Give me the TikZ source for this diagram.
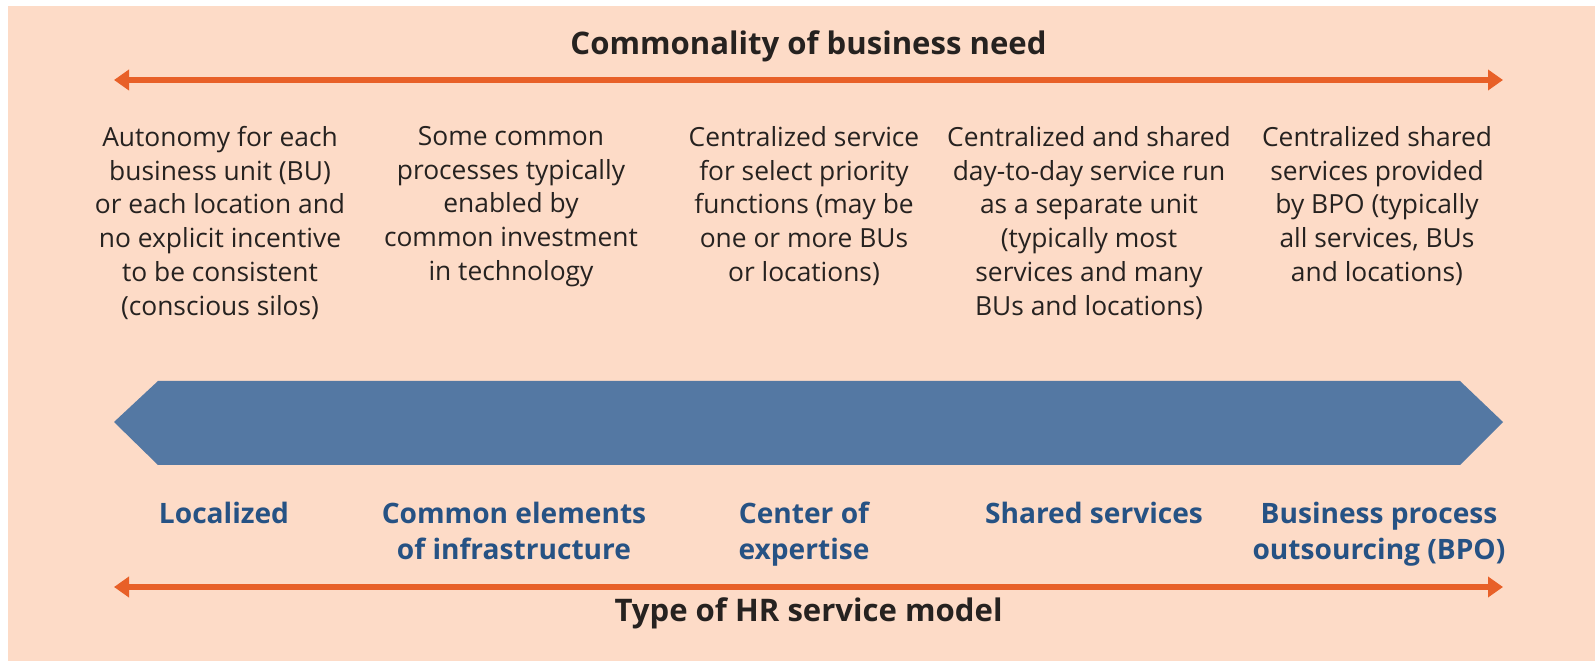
\documentclass[tikz,border=0pt]{standalone}
\usepackage{fontspec}
\setmainfont{Open Sans}
\usetikzlibrary{arrows.meta, positioning}

\definecolor{peach}{RGB}{253,219,199}
\definecolor{arroworange}{RGB}{232,96,40}
\definecolor{bandblue}{RGB}{84,120,163}
\definecolor{modelblue}{RGB}{38,82,132}
\definecolor{bodytext}{RGB}{38,34,32}

\begin{document}
\begin{tikzpicture}[
    every node/.style={
        align=center,
        inner sep=0pt
    },
    desc/.style={anchor=north, text=bodytext, font=\fontsize{15}{19.2}\selectfont},
    model/.style={anchor=north, text=modelblue, font=\bfseries\fontsize{16}{20.5}\selectfont},
    axislabel/.style={text=bodytext, font=\bfseries\fontsize{17.7}{21}\selectfont},
    scalearrow/.style={{Triangle[length=0.3cm, width=0.4cm]}-{Triangle[length=0.3cm, width=0.4cm]},
        line width=3.4pt, draw=arroworange}
]

% === Canvas ===
\useasboundingbox (0,0) rectangle (31.9,13.22);
\fill[peach] (0.16,0) rectangle (31.9,13.1);

% === Top scale: commonality ===
\node[axislabel] (needlabel) at (16.17,12.30) {Commonality of business need};
\coordinate (needL) at (2.28,11.62);
\coordinate (needR) at (30.06,11.62);

% === Descriptions (one per column) ===
\node[desc] (autonomy) at (4.40,10.70) {Autonomy for each\\business unit (BU)\\or each location and\\no explicit incentive\\to be consistent\\(conscious silos)};
\node[desc] (someproc) at (10.22,10.70) {Some common\\processes typically\\enabled by\\common investment\\in technology};
\node[desc] (centsvc) at (16.08,10.70) {Centralized service\\for select priority\\functions (may be\\one or more BUs\\or locations)};
\node[desc] (centshared) at (21.78,10.70) {Centralized and shared\\day-to-day service run\\as a separate unit\\(typically most\\services and many\\BUs and locations)};
\node[desc] (bposvc) at (27.54,10.70) {Centralized shared\\services provided\\by BPO (typically\\all services, BUs\\and locations)};

% === Band ===
\fill[bandblue] (2.28,4.78) -- (3.16,5.60) -- (29.20,5.60) -- (30.06,4.78)
    -- (29.20,3.92) -- (3.16,3.92) -- cycle;

% === Service models ===
\node[model] (localized) at (4.48,3.18) {Localized};
\node[model] (commonel) at (10.28,3.18) {Common elements\\of infrastructure};
\node[model] (coe) at (16.08,3.18) {Center of\\expertise};
\node[model] (shared) at (21.88,3.18) {Shared services};
\node[model] (bpo) at (27.58,3.18) {Business process\\outsourcing (BPO)};

% === Bottom scale: service model ===
\coordinate (modelL) at (2.28,1.48);
\coordinate (modelR) at (30.06,1.48);
\node[axislabel] (modellabel) at (16.17,0.96) {Type of HR service model};

% ============ ARROWS ============
\draw[scalearrow] (needL) -- (needR);
\draw[scalearrow] (modelL) -- (modelR);

\end{tikzpicture}
\end{document}
